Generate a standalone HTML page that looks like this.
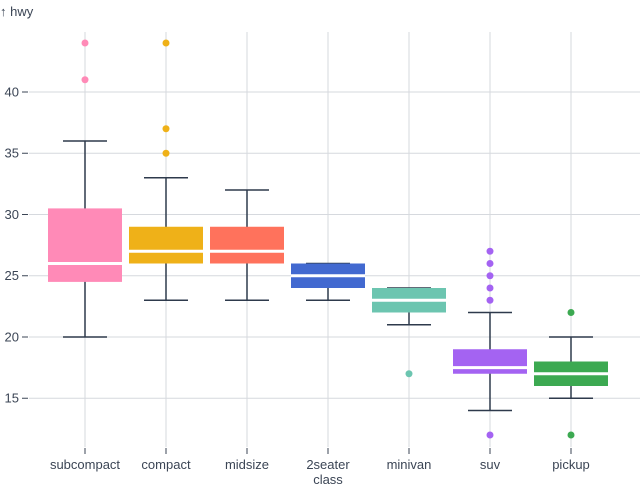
<!DOCTYPE html>
<html><head><meta charset="utf-8"><style>
html,body{margin:0;padding:0;background:#fff;}
svg{display:block;font-family:"Liberation Sans",sans-serif;}
</style></head><body>
<svg width="640" height="503" viewBox="0 0 640 503">
<g stroke="#d6d9de" stroke-width="1">
<line x1="29" x2="640" y1="92" y2="92"/><line x1="29" x2="640" y1="153.25" y2="153.25"/>
<line x1="29" x2="640" y1="214.5" y2="214.5"/><line x1="29" x2="640" y1="275.75" y2="275.75"/>
<line x1="29" x2="640" y1="337" y2="337"/><line x1="29" x2="640" y1="398.25" y2="398.25"/>
<line x1="85" x2="85" y1="32" y2="447"/><line x1="166" x2="166" y1="32" y2="447"/>
<line x1="247" x2="247" y1="32" y2="447"/><line x1="328" x2="328" y1="32" y2="447"/>
<line x1="409" x2="409" y1="32" y2="447"/><line x1="490" x2="490" y1="32" y2="447"/>
<line x1="571" x2="571" y1="32" y2="447"/>
</g>
<g stroke="#3b4555" stroke-width="1">
<line x1="22" x2="28" y1="92" y2="92"/><line x1="22" x2="28" y1="153.25" y2="153.25"/>
<line x1="22" x2="28" y1="214.5" y2="214.5"/><line x1="22" x2="28" y1="275.75" y2="275.75"/>
<line x1="22" x2="28" y1="337" y2="337"/><line x1="22" x2="28" y1="398.25" y2="398.25"/>
<line x1="85" x2="85" y1="448" y2="454"/><line x1="166" x2="166" y1="448" y2="454"/>
<line x1="247" x2="247" y1="448" y2="454"/><line x1="328" x2="328" y1="448" y2="454"/>
<line x1="409" x2="409" y1="448" y2="454"/><line x1="490" x2="490" y1="448" y2="454"/>
<line x1="571" x2="571" y1="448" y2="454"/>
</g>
<g fill="#3b4555" font-size="13" text-anchor="end">
<text x="19" y="96.5">40</text><text x="19" y="157.5">35</text><text x="19" y="219">30</text>
<text x="19" y="280">25</text><text x="19" y="341.5">20</text><text x="19" y="402.5">15</text>
</g>
<text x="0" y="16" fill="#3b4555" font-size="13">↑ hwy</text>
<g fill="#3b4555" font-size="13" text-anchor="middle">
<text x="85" y="469">subcompact</text><text x="166" y="469">compact</text><text x="247" y="469">midsize</text>
<text x="328" y="469">2seater</text><text x="328" y="484">class</text><text x="409" y="469">minivan</text>
<text x="490" y="469">suv</text><text x="571" y="469">pickup</text>
</g>
<g stroke="#2e3a4c" stroke-width="1.5">
<line x1="85" x2="85" y1="141" y2="337"/><line x1="63" x2="107" y1="141" y2="141"/><line x1="63" x2="107" y1="337" y2="337"/>
<line x1="166" x2="166" y1="177.75" y2="300.25"/><line x1="144" x2="188" y1="177.75" y2="177.75"/><line x1="144" x2="188" y1="300.25" y2="300.25"/>
<line x1="247" x2="247" y1="190" y2="300.25"/><line x1="225" x2="269" y1="190" y2="190"/><line x1="225" x2="269" y1="300.25" y2="300.25"/>
<line x1="328" x2="328" y1="263.5" y2="300.25"/><line x1="306" x2="350" y1="263.5" y2="263.5"/><line x1="306" x2="350" y1="300.25" y2="300.25"/>
<line x1="409" x2="409" y1="288" y2="324.75"/><line x1="387" x2="431" y1="288" y2="288"/><line x1="387" x2="431" y1="324.75" y2="324.75"/>
<line x1="490" x2="490" y1="312.5" y2="410.5"/><line x1="468" x2="512" y1="312.5" y2="312.5"/><line x1="468" x2="512" y1="410.5" y2="410.5"/>
<line x1="571" x2="571" y1="337" y2="398.25"/><line x1="549" x2="593" y1="337" y2="337"/><line x1="549" x2="593" y1="398.25" y2="398.25"/>
</g>
<rect x="48" y="208.4" width="74" height="73.5" fill="#ff8ab7"/>
<rect x="129" y="226.75" width="74" height="36.75" fill="#efb118"/>
<rect x="210" y="226.75" width="74" height="36.75" fill="#ff725c"/>
<rect x="291" y="263.5" width="74" height="24.5" fill="#4269d0"/>
<rect x="372" y="288" width="74" height="24.5" fill="#6cc5b0"/>
<rect x="453" y="349.25" width="74" height="24.5" fill="#a463f2"/>
<rect x="534" y="361.5" width="74" height="24.5" fill="#3ca951"/>
<g stroke="#fff" stroke-width="3">
<line x1="48" x2="122" y1="263.5" y2="263.5"/><line x1="129" x2="203" y1="251.25" y2="251.25"/>
<line x1="210" x2="284" y1="251.25" y2="251.25"/><line x1="291" x2="365" y1="275.75" y2="275.75"/>
<line x1="372" x2="446" y1="300.25" y2="300.25"/><line x1="453" x2="527" y1="367.6" y2="367.6"/>
<line x1="534" x2="608" y1="373.75" y2="373.75"/>
</g>
<g fill="#ff8ab7"><circle cx="85" cy="43" r="3.5"/><circle cx="85" cy="79.75" r="3.5"/></g>
<g fill="#efb118"><circle cx="166" cy="43" r="3.5"/><circle cx="166" cy="128.75" r="3.5"/><circle cx="166" cy="153.25" r="3.5"/></g>
<g fill="#6cc5b0"><circle cx="409" cy="373.75" r="3.5"/></g>
<g fill="#a463f2"><circle cx="490" cy="251.25" r="3.5"/><circle cx="490" cy="263.5" r="3.5"/><circle cx="490" cy="275.75" r="3.5"/><circle cx="490" cy="288" r="3.5"/><circle cx="490" cy="300.25" r="3.5"/><circle cx="490" cy="435" r="3.5"/></g>
<g fill="#3ca951"><circle cx="571" cy="312.5" r="3.5"/><circle cx="571" cy="435" r="3.5"/></g>
</svg>
</body></html>
